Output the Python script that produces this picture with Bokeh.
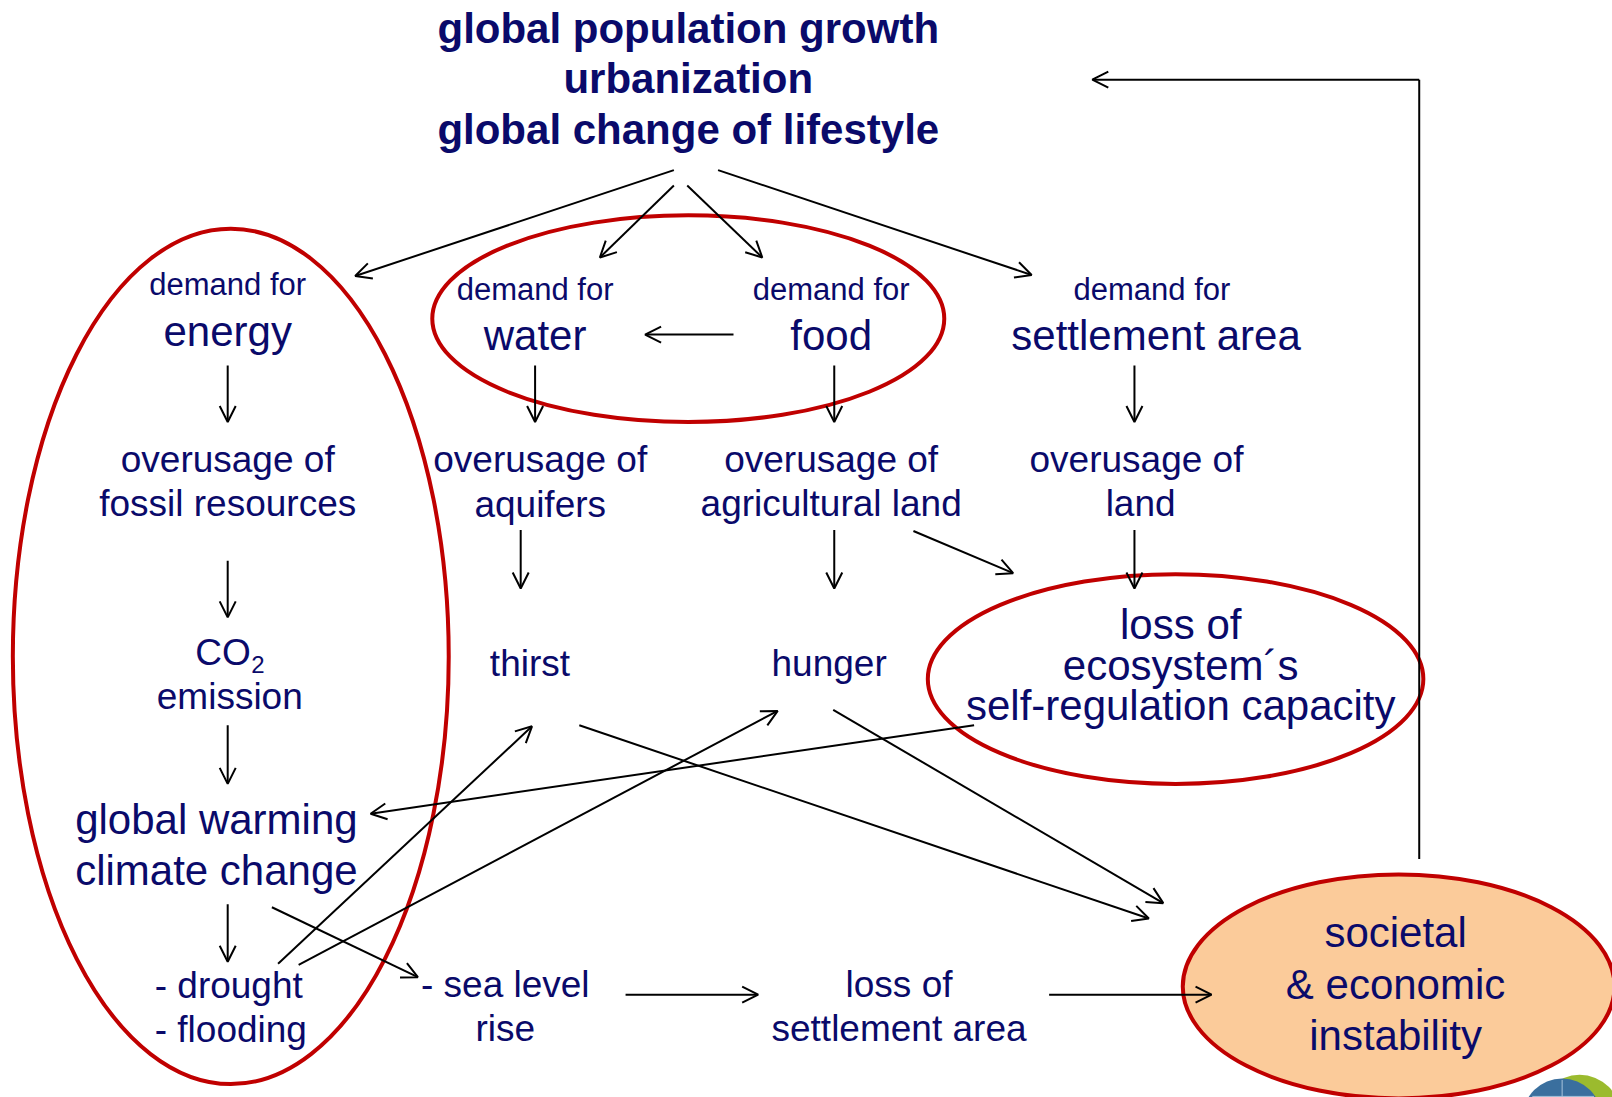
from bokeh.plotting import figure
from bokeh.models import ColumnDataSource, Arrow, OpenHead, Range1d
from bokeh.core.properties import value
from bokeh.embed import file_html
from bokeh.resources import INLINE

K = 1568 / 1612
NAVY = "#0a0a6a"
RED = "#c00000"
FONT = value("Liberation Sans")

# ---- node labels ----
title_text = ["global population growth", "urbanization", "global change of lifestyle"]
title_x = [669, 669, 669]
title_y = [27, 76, 125]

small_text = ["demand for", "demand for", "demand for", "demand for"]
small_x = [221, 520, 808, 1120]
small_y = [276, 281, 281, 281]

large_text = ["energy", "water", "food", "settlement area",
              "loss of", "ecosystem\u00b4s", "self-regulation capacity",
              "global warming", "climate change",
              "societal", "& economic", "instability"]
large_x = [221, 520, 808, 1124, 1148, 1148, 1148, 210, 210, 1357, 1357, 1357]
large_y = [322, 326, 326, 326, 607, 647, 686, 797, 846, 907, 957, 1007]

mid_text = ["overusage of", "overusage of", "overusage of", "overusage of",
            "fossil resources", "aquifers", "agricultural land", "land",
            "emission", "thirst", "hunger",
            "loss of", "settlement area", "- sea level", "rise"]
mid_x = [221, 525, 808, 1105, 221, 525, 808, 1109, 223, 515, 806, 874, 874, 491, 491]
mid_y = [446, 446, 446, 446, 489, 490, 489, 489, 677, 645, 645, 957, 1000, 957, 1000]

left_text = ["- drought", "- flooding"]
left_x = [150, 150]
left_y = [958, 1001]

# ---- arrows (start -> end) ----
ax0 = [655, 655, 668, 698, 713, 221, 520, 811, 1103, 221, 506, 811, 888, 1103, 221, 947, 563, 810, 221, 270, 290, 264, 608, 1020, 1380]
ay0 = [165, 180, 180, 165, 325, 355, 355, 355, 355, 545, 515, 515, 516, 515, 705, 705, 705, 690, 879, 937, 938, 882, 967, 967, 77]
ax1 = [345, 583, 741, 1003, 627, 221, 520, 811, 1103, 221, 506, 811, 985, 1103, 221, 360, 1117, 1131, 221, 517, 756, 406, 737, 1178, 1062]
ay1 = [268, 250, 250, 267, 325, 410, 410, 410, 410, 600, 572, 572, 557, 572, 762, 791, 893, 878, 935, 706, 691, 950, 967, 967, 77]

# feedback path
fb_x = [1380, 1380]
fb_y = [835, 77]

# ---- ellipses ----
ell_x = [224, 669, 1143]
ell_y = [638, 309.5, 660]
ell_w = [424, 498, 482]
ell_h = [832, 201, 204]
soc_x, soc_y, soc_w, soc_h = [1360], [959], [420], [218]

p = figure(width=1612, height=1097,
           x_range=Range1d(0, 1612 * K), y_range=Range1d(1097 * K, 0),
           output_backend="svg", toolbar_location=None, min_border=0,
           x_axis_location=None, y_axis_location=None)
p.grid.visible = False
p.outline_line_color = None
p.background_fill_color = "white"

# logo hint (bottom right)
p.ellipse(x=[1536], y=[1085], width=[80], height=[80], fill_color="#9bbb2e", line_color=None)
p.ellipse(x=[1519], y=[1087], width=[77], height=[77], fill_color="#3a6f9e", line_color=None)
p.multi_line(xs=[[1490, 1550], [1519, 1519]], ys=[[1066, 1066], [1050, 1067]],
             line_color="#a9c4dc", line_width=1)

p.ellipse(x=soc_x, y=soc_y, width=soc_w, height=soc_h, fill_color="#fbcb9a",
          line_color=RED, line_width=4)
p.ellipse(x=ell_x, y=ell_y, width=ell_w, height=ell_h, fill_color=None,
          line_color=RED, line_width=4)

p.line(x=fb_x, y=fb_y, line_color="black", line_width=2)

src = ColumnDataSource(dict(x0=ax0, y0=ay0, x1=ax1, y1=ay1))
p.add_layout(Arrow(end=OpenHead(size=16, line_width=2, line_color="black"),
                   x_start="x0", y_start="y0", x_end="x1", y_end="y1",
                   line_width=2, line_color="black", source=src))

p.text(x=title_x, y=title_y, text=title_text, text_font=FONT, text_font_size="42px",
       text_font_style="bold", text_color=NAVY, text_align="center", text_baseline="middle")
p.text(x=small_x, y=small_y, text=small_text, text_font=FONT, text_font_size="31px",
       text_color=NAVY, text_align="center", text_baseline="middle")
p.text(x=large_x, y=large_y, text=large_text, text_font=FONT, text_font_size="42px",
       text_color=NAVY, text_align="center", text_baseline="middle")
p.text(x=mid_x, y=mid_y, text=mid_text, text_font=FONT, text_font_size="37px",
       text_color=NAVY, text_align="center", text_baseline="middle")
p.text(x=left_x, y=left_y, text=left_text, text_font=FONT, text_font_size="37px",
       text_color=NAVY, text_align="left", text_baseline="middle")
# CO2 with subscript
p.text(x=[216.5], y=[634], text=["CO"], text_font=FONT, text_font_size="37px",
       text_color=NAVY, text_align="center", text_baseline="middle")
p.text(x=[244], y=[646], text=["2"], text_font=FONT, text_font_size="24px",
       text_color=NAVY, text_align="left", text_baseline="middle")

open("out.html", "w").write(file_html(p, INLINE))
